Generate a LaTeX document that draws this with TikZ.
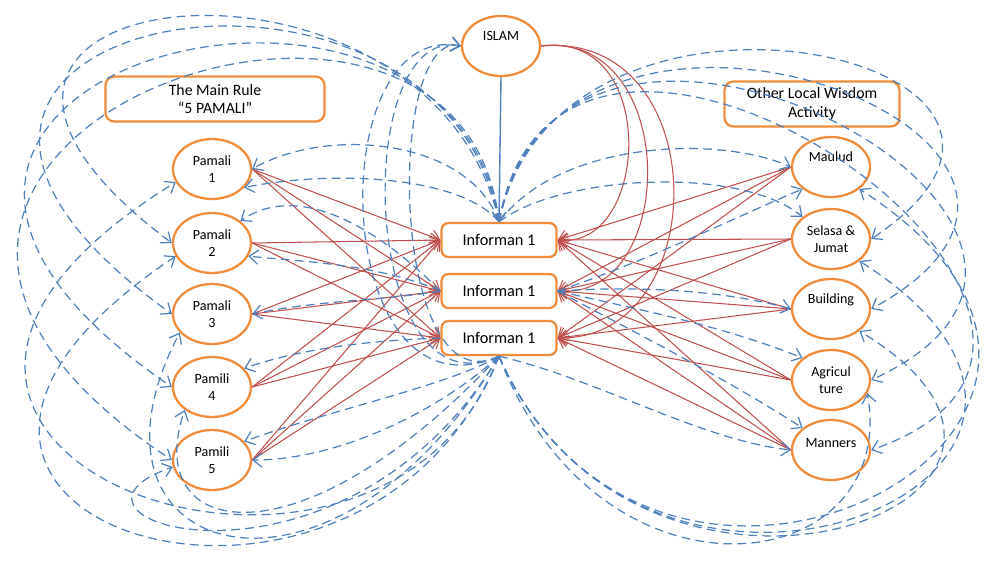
\documentclass[tikz,border=0pt]{standalone}
\usepackage{fontspec}
\setmainfont{Carlito}
\usetikzlibrary{arrows,arrows.meta,shapes}

\definecolor{boxorange}{RGB}{240,140,60}
\definecolor{linkred}{RGB}{192,80,77}
\definecolor{linkblue}{RGB}{79,129,189}

\tikzset{
  roundnode/.style = {ellipse, draw=boxorange, line width=1.3pt, minimum width=1.56cm, minimum height=1.2cm, inner sep=1pt, align=center, font=\fontsize{8}{9.5}\selectfont},
  titlebox/.style = {rectangle, rounded corners=5pt, draw=boxorange, line width=1.3pt, align=center, minimum height=0.9cm, font=\fontsize{9}{10.5}\selectfont},
  infobox/.style = {rectangle, rounded corners=4pt, draw=boxorange, line width=1.3pt, minimum width=2.3cm, minimum height=0.68cm, font=\fontsize{9.3}{11}\selectfont},
  toptext/.style = {text height=6pt, text depth=12pt},
  redline/.style = {draw=linkred, line width=0.6pt},
  blueline/.style = {draw=linkblue, line width=0.7pt, dash pattern=on 5pt off 3pt},
  islamline/.style = {draw=linkblue, line width=0.8pt}
}

\begin{document}
\begin{tikzpicture}[x=0.02cm, y=-0.02cm, >={Straight Barb[length=5pt,width=8pt]}]
  \useasboundingbox (0,0) rectangle (989,562);

  % nodes
  \node[roundnode, text height=6pt, text depth=12pt] (islam) at (501,46) {ISLAM};
  \node[titlebox, minimum width=4.38cm] (rule) at (215,99) {The Main Rule\\“5 PAMALI”};
  \node[titlebox, minimum width=3.5cm] (wisdom) at (812,104) {Other Local Wisdom\\Activity};

  \node[infobox] (inf1) at (499,240) {Informan 1};
  \node[infobox] (inf2) at (499,291) {Informan 1};
  \node[infobox] (inf3) at (499,338) {Informan 1};

  \node[roundnode] (pamali1) at (212,169) {Pamali\\1};
  \node[roundnode] (pamali2) at (212,243) {Pamali\\2};
  \node[roundnode] (pamali3) at (212,314) {Pamali\\3};
  \node[roundnode] (pamali4) at (212,387) {Pamili\\4};
  \node[roundnode] (pamali5) at (212,460) {Pamili\\5};

  \node[roundnode, toptext] (maulud) at (831,167) {Maulud};
  \node[roundnode] (selasa) at (831,239) {Selasa \&\\Jumat};
  \node[roundnode, toptext] (building) at (831,309) {Building};
  \node[roundnode] (agri) at (831,380) {Agricul\\ture};
  \node[roundnode, text height=6pt, text depth=9pt] (manners) at (831,450) {Manners};

  % pamali -> informan
  \draw[redline, ->] (pamali1.east) -- (inf1.west);
  \draw[redline, ->] (pamali1.east) -- (inf2.west);
  \draw[redline, ->] (pamali1.east) -- (inf3.west);
  \draw[redline, ->] (pamali2.east) -- (inf1.west);
  \draw[redline, ->] (pamali2.east) -- (inf2.west);
  \draw[redline, ->] (pamali2.east) -- (inf3.west);
  \draw[redline, ->] (pamali3.east) -- (inf1.west);
  \draw[redline, ->] (pamali3.east) -- (inf2.west);
  \draw[redline, ->] (pamali3.east) -- (inf3.west);
  \draw[redline, ->] (pamali4.east) -- (inf1.west);
  \draw[redline, ->] (pamali4.east) -- (inf2.west);
  \draw[redline, ->] (pamali4.east) -- (inf3.west);
  \draw[redline, ->] (pamali5.east) -- (inf1.west);
  \draw[redline, ->] (pamali5.east) -- (inf2.west);
  \draw[redline, ->] (pamali5.east) -- (inf3.west);

  % activity -> informan
  \draw[redline, ->] (maulud.west) -- (inf1.east);
  \draw[redline, ->] (maulud.west) -- (inf2.east);
  \draw[redline, ->] (maulud.west) -- (inf3.east);
  \draw[redline, ->] (selasa.west) -- (inf1.east);
  \draw[redline, ->] (selasa.west) -- (inf2.east);
  \draw[redline, ->] (selasa.west) -- (inf3.east);
  \draw[redline, ->] (building.west) -- (inf1.east);
  \draw[redline, ->] (building.west) -- (inf2.east);
  \draw[redline, ->] (building.west) -- (inf3.east);
  \draw[redline, ->] (agri.west) -- (inf1.east);
  \draw[redline, ->] (agri.west) -- (inf2.east);
  \draw[redline, ->] (agri.west) -- (inf3.east);
  \draw[redline, ->] (manners.west) -- (inf1.east);
  \draw[redline, ->] (manners.west) -- (inf2.east);
  \draw[redline, ->] (manners.west) -- (inf3.east);

  % islam
  \draw[redline, ->] (islam.east) .. controls (660,30) and (650,250) .. (inf1.east);
  \draw[redline, ->] (islam.east) .. controls (680,30) and (680,300) .. (inf2.east);
  \draw[redline, ->] (islam.east) .. controls (715,30) and (715,340) .. (inf3.east);
  \draw[islamline, ->] (islam.south) -- (inf1.north);

  % left, near
  \draw[blueline, ->] (inf1.north) .. controls (470,140) and (330,125) .. (pamali1.east);
  \draw[blueline, ->] (inf1.north) .. controls (460,175) and (330,170) .. (pamali1.330);
  \draw[blueline, ->] (inf2.west) .. controls (380,230) and (300,180) .. (pamali2.north east);
  \draw[blueline, ->] (inf2.west) .. controls (380,265) and (310,262) .. (pamali2.340);
  \draw[blueline, ->] (inf2.west) .. controls (390,300) and (320,300) .. (pamali3.east);
  \draw[blueline, ->] (inf3.west) .. controls (390,340) and (310,345) .. (pamali4.30);
  \draw[blueline, ->] (inf3.south) .. controls (450,385) and (330,410) .. (pamali5.30);
  \draw[blueline, ->] (inf3.south) .. controls (440,410) and (340,460) .. (pamali5.east);

  % left, over the top
  \draw[blueline, ->] (inf1.north) .. controls (430,-90) and (-180,-20) .. (pamali2.west);
  \draw[blueline, ->] (inf1.north) .. controls (440,-110) and (-240,20) .. (pamali3.west);
  \draw[blueline, ->] (inf1.north) .. controls (450,-120) and (-280,80) .. (pamali4.west);
  \draw[blueline, ->] (inf1.north) .. controls (460,-130) and (-300,150) .. (pamali5.west);
  \draw[blueline, ->] (inf3.south) .. controls (330,430) and (320,20) .. (islam.west);
  \draw[blueline, ->] (inf3.south) .. controls (360,420) and (350,25) .. (islam.west);
  \draw[blueline, ->] (inf3.south) .. controls (390,410) and (385,30) .. (islam.west);

  % left, round the bottom
  \draw[blueline, ->] (inf3.south) .. controls (380,680) and (-260,450) .. (pamali1.200);
  \draw[blueline, ->] (inf3.south) .. controls (360,700) and (-220,520) .. (pamali2.200);
  \draw[blueline, ->] (inf3.south) .. controls (330,640) and (60,560) .. (pamali3.210);
  \draw[blueline, ->] (inf3.south) .. controls (300,570) and (140,540) .. (pamali4.220);
  \draw[blueline, ->] (inf3.south) .. controls (340,620) and (20,520) .. (pamali5.190);

  % right, near
  \draw[blueline, ->] (inf1.north) .. controls (560,140) and (720,135) .. (maulud.west);
  \draw[blueline, ->] (inf2.east) .. controls (650,260) and (740,215) .. (maulud.south west);
  \draw[blueline, ->] (inf1.north) .. controls (560,175) and (740,165) .. (selasa.north west);
  \draw[blueline, ->] (inf2.east) .. controls (650,285) and (730,292) .. (building.west);
  \draw[blueline, ->] (inf2.east) .. controls (640,310) and (720,325) .. (agri.north west);
  \draw[blueline, ->] (inf2.east) .. controls (630,330) and (720,375) .. (manners.north west);
  \draw[blueline, ->] (inf3.south) .. controls (600,380) and (700,440) .. (manners.west);

  % right, over the top
  \draw[blueline, ->] (inf1.north) .. controls (560,-70) and (1140,60) .. (selasa.east);
  \draw[blueline, ->] (inf1.north) .. controls (560,-90) and (1180,140) .. (building.east);
  \draw[blueline, ->] (inf1.north) .. controls (560,-110) and (1200,230) .. (agri.east);
  \draw[blueline, ->] (inf1.north) .. controls (560,-130) and (1220,330) .. (manners.east);

  % right, round the bottom
  \draw[blueline, ->] (inf3.south) .. controls (660,720) and (1220,420) .. (maulud.south east);
  \draw[blueline, ->] (inf3.south) .. controls (650,700) and (1190,470) .. (selasa.south east);
  \draw[blueline, ->] (inf3.south) .. controls (640,680) and (1140,500) .. (building.south east);
  \draw[blueline, ->] (inf3.south) .. controls (600,620) and (900,580) .. (agri.340);

\end{tikzpicture}
\end{document}
